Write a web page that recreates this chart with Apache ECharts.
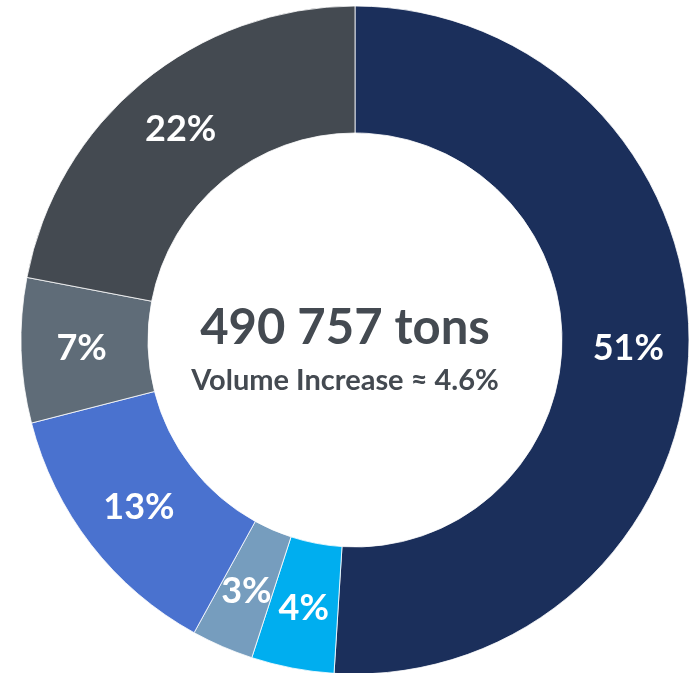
<!DOCTYPE html>
<html>
<head>
<meta charset="utf-8">
<script src="https://cdn.jsdelivr.net/npm/echarts@6/dist/echarts.min.js"></script>
<style>
  html, body { margin: 0; padding: 0; background: #ffffff; }
  #chart { width: 690px; height: 673px; }
</style>
</head>
<body>
<div id="chart"></div>
<script>
// Share of total volume by segment, clockwise from 12 o'clock
const shares = [51, 4, 3, 13, 7, 22];
const segmentColors = ['#1B2F5B', '#00AEEF', '#769DBE', '#4A72CF', '#5F6C78', '#444A51'];
const totalLabel = '490 757 tons';
const subLabel = 'Volume Increase \u2248 4.6%';

const FONT = 'Lato, "Open Sans", sans-serif';

const chart = echarts.init(document.getElementById('chart'), null, { renderer: 'canvas' });
chart.setOption({
  animation: false,
  backgroundColor: '#ffffff',
  graphic: [
    {
      type: 'text',
      left: 'center',
      top: 304,
      style: {
        text: totalLabel,
        font: 'bold 49px ' + FONT,
        fill: '#444A51',
        textAlign: 'center'
      }
    },
    {
      type: 'text',
      left: 'center',
      top: 366,
      style: {
        text: subLabel,
        font: 'bold 29px ' + FONT,
        fill: '#444A51',
        textAlign: 'center'
      }
    }
  ],
  series: [{
    type: 'pie',
    center: [355, 340],
    radius: [207, 334],
    startAngle: 90,
    clockwise: true,
    avoidLabelOverlap: false,
    itemStyle: { borderColor: '#ffffff', borderWidth: 0.8 },
    label: {
      show: true,
      position: 'inside',
      formatter: '{c}%',
      color: '#ffffff',
      fontFamily: FONT,
      fontWeight: 'bold',
      fontSize: 36
    },
    labelLine: { show: false },
    emphasis: { disabled: true },
    data: shares.map((v, i) => ({ value: v, itemStyle: { color: segmentColors[i] } }))
  }]
});
</script>
</body>
</html>
